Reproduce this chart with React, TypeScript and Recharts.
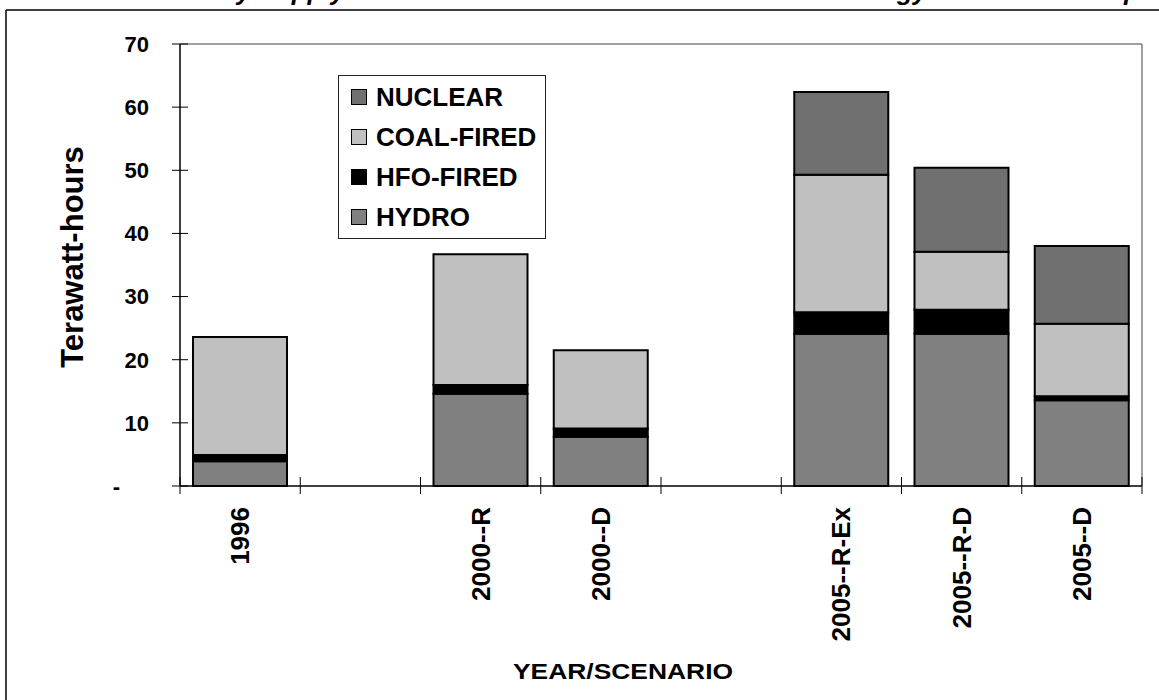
import React from 'react';
import { BarChart, Bar, XAxis, YAxis, Legend, CartesianGrid, Label } from 'recharts';

const FONT = "Arial, 'Liberation Sans', sans-serif";

// x slots, two of them left empty as spacers
const categories = ['1996', '', '2000--R', '2000--D', '', '2005--R-Ex', '2005--R-D', '2005--D'];

// terawatt-hours
const hydro = [3.9, null, 14.6, 7.8, null, 24.1, 24.1, 13.6];
const hfoFired = [1.0, null, 1.4, 1.3, null, 3.4, 3.8, 0.6];
const coalFired = [18.7, null, 20.7, 12.4, null, 21.8, 9.2, 11.5];
const nuclear = [null, null, null, null, null, 13.1, 13.3, 12.3];

const yTicks = [0, 10, 20, 30, 40, 50, 60, 70];

// bottom of the stack first
const series = [
  { key: 'hydro', name: 'HYDRO', color: '#808080', values: hydro },
  { key: 'hfo', name: 'HFO-FIRED', color: '#000000', values: hfoFired },
  { key: 'coal', name: 'COAL-FIRED', color: '#c0c0c0', values: coalFired },
  { key: 'nuclear', name: 'NUCLEAR', color: '#707070', values: nuclear },
];

const data = categories.map((name, i) => {
  const row: Record<string, any> = { name };
  series.forEach(s => { row[s.key] = s.values[i]; });
  return row;
});

// Excel-style: tick marks sit on the category boundaries, not the centres
const CategoryTick = ({ x, y, payload, index, width, visibleTicksCount }: any) => {
  const half = width / visibleTicksCount / 2;
  return (
    <g>
      <line x1={x - half} x2={x - half} y1={y - 9} y2={y + 8} stroke="#000" strokeWidth={1} />
      {index === visibleTicksCount - 1 && (
        <line x1={x + half} x2={x + half} y1={y - 9} y2={y + 8} stroke="#000" strokeWidth={1} />
      )}
      <text
        transform={`translate(${x + 9},${y + 21}) rotate(-90)`}
        textAnchor="end"
        fontSize={26}
        fontWeight="bold"
        fontFamily={FONT}
        fill="#000"
      >
        {payload.value}
      </text>
    </g>
  );
};

const ValueTick = ({ x, y, payload }: any) => (
  <g>
    <line x1={x - 8} x2={x + 8} y1={y} y2={y} stroke="#000" strokeWidth={1} />
    <text
      x={payload.value === 0 ? x - 60 : x - 31}
      y={y}
      dy="0.36em"
      textAnchor="end"
      fontSize={22}
      fontWeight="bold"
      fontFamily={FONT}
      fill="#000"
    >
      {payload.value === 0 ? '-' : payload.value}
    </text>
  </g>
);

const YTitle = ({ viewBox }: any) => (
  <text
    transform={`translate(${viewBox.x + 83},${viewBox.y + viewBox.height / 2 - 8}) rotate(-90)`}
    textAnchor="middle"
    fontSize={31}
    fontWeight="bold"
    fontFamily={FONT}
    fill="#000"
  >
    Terawatt-hours
  </text>
);

const XTitle = ({ viewBox }: any) => (
  <text
    x={viewBox.x + viewBox.width / 2 - 38}
    y={viewBox.y + 193}
    textAnchor="middle"
    fontSize={22}
    fontWeight="bold"
    fontFamily={FONT}
    textLength={220}
    lengthAdjust="spacingAndGlyphs"
    fill="#000"
  >
    YEAR/SCENARIO
  </text>
);

const LegendBox = () => (
  <div
    style={{
      border: '1px solid #222',
      background: '#fff',
      width: 206,
      padding: '1px 0',
      fontFamily: FONT,
      fontWeight: 'bold',
      fontSize: 26,
    }}
  >
    {[...series].reverse().map(s => (
      <div key={s.key} style={{ height: 40, display: 'flex', alignItems: 'center', paddingLeft: 12 }}>
        <span
          style={{
            display: 'inline-block',
            width: 14,
            height: 14,
            background: s.color,
            border: '1.5px solid #000',
            marginRight: 9,
          }}
        />
        <span style={{ lineHeight: '26px' }}>{s.name}</span>
      </div>
    ))}
  </div>
);

export default function App() {
  return (
    <div style={{ position: 'absolute', left: 0, top: 0, width: 1159, height: 700, background: '#fff', overflow: 'hidden' }}>
      <BarChart
        width={1159}
        height={700}
        data={data}
        margin={{ top: 44, right: 17, bottom: 0, left: 0 }}
        barCategoryGap={13}
      >
        {/* grey frame on the top and right of the plot area */}
        <CartesianGrid
          stroke="#808080"
          strokeWidth={1.5}
          horizontalCoordinatesGenerator={({ offset }: any) => [offset.top]}
          verticalCoordinatesGenerator={({ offset }: any) => [offset.left + offset.width]}
        />
        <XAxis
          dataKey="name"
          height={214}
          axisLine={{ stroke: '#000', strokeWidth: 1.5 }}
          tickLine={false}
          tickSize={0}
          tickMargin={0}
          tick={<CategoryTick />}
          interval={0}
        >
          <Label content={<XTitle />} />
        </XAxis>
        <YAxis
          width={180}
          domain={[0, 70]}
          ticks={yTicks}
          interval={0}
          axisLine={{ stroke: '#000', strokeWidth: 1.5 }}
          tickLine={false}
          tickSize={0}
          tickMargin={0}
          tick={<ValueTick />}
        >
          <Label content={<YTitle />} />
        </YAxis>
        <Legend
          layout="vertical"
          align="center"
          verticalAlign="middle"
          content={<LegendBox />}
          wrapperStyle={{ left: 338, top: 75, width: 'auto' }}
        />
        {series.map(s => (
          <Bar
            key={s.key}
            dataKey={s.key}
            name={s.name}
            stackId="supply"
            fill={s.color}
            stroke="#000"
            strokeWidth={2}
            isAnimationActive={false}
          />
        ))}
      </BarChart>
      <svg width={1159} height={700} style={{ position: 'absolute', left: 0, top: 0, pointerEvents: 'none' }}>
        <text
          x={127}
          y={0}
          fontSize={26}
          fontWeight="bold"
          fontStyle="italic"
          fontFamily={FONT}
          fill="#000"
        >
          Electricity Supply Mix in the Reference and Demand-Side Energy Scenarios Compared
        </text>
        <line x1={6} x2={1159} y1={10} y2={10} stroke="#000" strokeWidth={1.5} />
        <line x1={6} x2={6} y1={10} y2={700} stroke="#000" strokeWidth={1.5} />
      </svg>
    </div>
  );
}
